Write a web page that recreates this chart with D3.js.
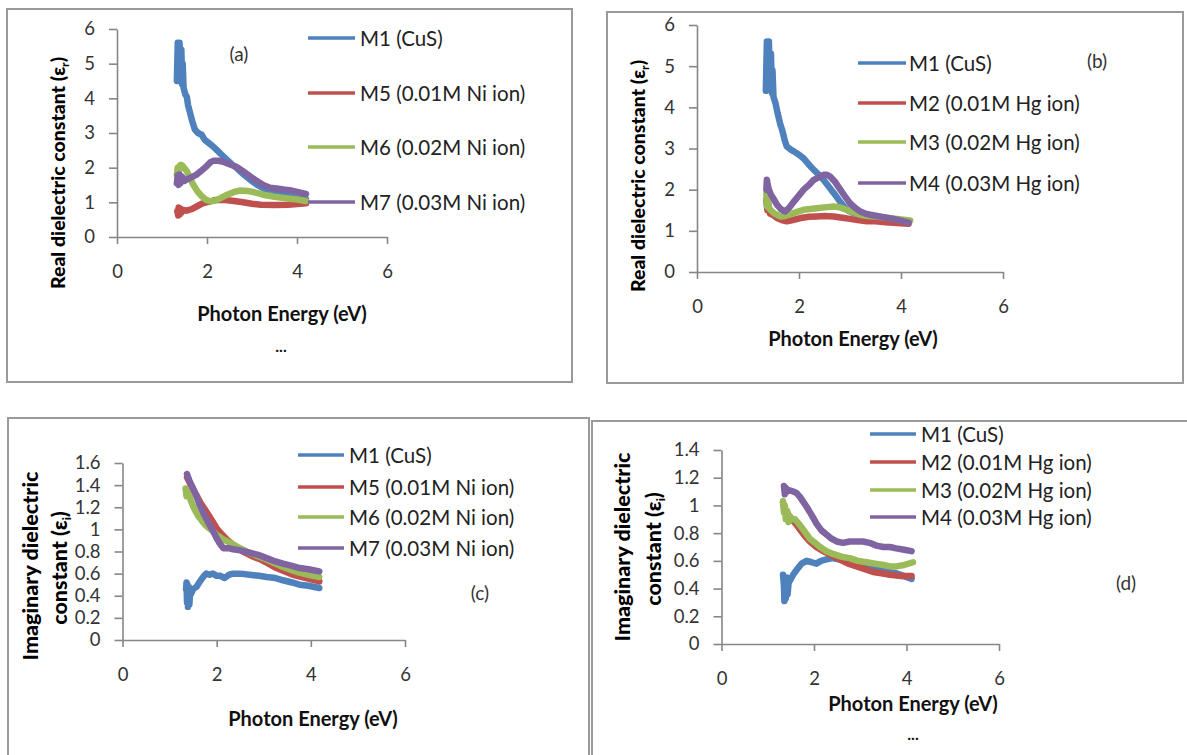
<!DOCTYPE html>
<html>
<head>
<meta charset="utf-8">
<script src="https://cdn.jsdelivr.net/npm/d3@7"></script>
<style>
  html, body { margin: 0; padding: 0; background: #fff; }
  svg { display: block; font-family: Lato, "Open Sans", sans-serif; }
</style>
</head>
<body>
<svg id="fig" width="1187" height="755"></svg>
<script>
// ---- tick values ----
const energyTicks = [0, 2, 4, 6];
const realTicks = [0, 1, 2, 3, 4, 5, 6];
const imagTicksNi = [0, 0.2, 0.4, 0.6, 0.8, 1, 1.2, 1.4, 1.6];
const imagTicksHg = [0, 0.2, 0.4, 0.6, 0.8, 1, 1.2, 1.4];

// ---- legend labels ----
const legendNi = ["M1 (CuS)", "M5 (0.01M Ni ion)", "M6 (0.02M Ni ion)", "M7 (0.03M Ni ion)"];
const legendHg = ["M1 (CuS)", "M2 (0.01M Hg ion)", "M3 (0.02M Hg ion)", "M4 (0.03M Hg ion)"];

// ---- (a) real part, Ni-doped films: [photon energy eV, epsilon_r] ----
const realNi_M1 = [[1.33,4.5],[1.35,5.6],[1.37,4.5],[1.39,5.6],[1.41,4.5],[1.43,5.4],[1.45,4.4],[1.46,5.0],[1.48,4.3],[1.52,4.1],[1.55,4.05],[1.58,3.8],[1.62,3.6],[1.67,3.35],[1.73,3.1],[1.80,3.0],[1.88,2.95],[1.95,2.8],[2.0,2.75],[2.1,2.65],[2.21,2.52],[2.32,2.38],[2.44,2.23],[2.55,2.1],[2.66,1.99],[2.8,1.82],[2.96,1.65],[3.1,1.52],[3.25,1.41],[3.4,1.33],[3.55,1.27],[3.7,1.22],[3.84,1.17],[4.0,1.12],[4.2,1.08]];
const realNi_M5 = [[1.34,0.75],[1.36,0.62],[1.37,0.85],[1.39,0.65],[1.41,0.82],[1.43,0.7],[1.47,0.78],[1.55,0.76],[1.65,0.8],[1.77,0.88],[1.9,0.97],[2.07,1.03],[2.2,1.07],[2.4,1.07],[2.6,1.04],[2.8,1.0],[3.0,0.96],[3.2,0.93],[3.5,0.92],[3.8,0.93],[4.0,0.95],[4.2,0.97]];
const realNi_M6 = [[1.33,1.8],[1.35,2.0],[1.37,1.85],[1.39,2.05],[1.42,2.08],[1.46,2.05],[1.5,1.98],[1.56,1.88],[1.62,1.7],[1.7,1.5],[1.78,1.33],[1.88,1.18],[1.98,1.07],[2.07,1.03],[2.18,1.05],[2.3,1.12],[2.45,1.22],[2.6,1.3],[2.75,1.34],[2.9,1.33],[3.05,1.29],[3.25,1.22],[3.5,1.16],[3.75,1.12],[4.0,1.08],[4.2,1.04]];
const realNi_M7 = [[1.33,1.55],[1.35,1.78],[1.37,1.5],[1.39,1.8],[1.41,1.55],[1.44,1.75],[1.5,1.62],[1.55,1.66],[1.65,1.72],[1.77,1.8],[1.88,1.92],[1.99,2.04],[2.07,2.15],[2.14,2.2],[2.25,2.2],[2.36,2.17],[2.5,2.1],[2.66,2.02],[2.8,1.9],[2.96,1.75],[3.1,1.62],[3.25,1.5],[3.4,1.42],[3.55,1.4],[3.7,1.37],[3.84,1.35],[4.0,1.3],[4.2,1.24]];

// ---- (b) real part, Hg-doped films ----
const realHg_M1 = [[1.35,4.4],[1.37,5.6],[1.39,4.45],[1.41,5.6],[1.43,4.5],[1.45,5.3],[1.47,4.35],[1.48,4.9],[1.5,4.25],[1.54,4.1],[1.58,3.86],[1.63,3.6],[1.67,3.45],[1.72,3.2],[1.76,3.05],[1.83,2.98],[1.9,2.93],[2.0,2.85],[2.09,2.76],[2.2,2.6],[2.29,2.48],[2.4,2.35],[2.48,2.24],[2.58,2.08],[2.68,1.92],[2.78,1.75],[2.88,1.59],[2.98,1.48],[3.07,1.43],[3.2,1.4],[3.35,1.36],[3.5,1.33],[3.7,1.3],[3.9,1.26],[4.15,1.22]];
const realHg_M2 = [[1.36,1.75],[1.38,1.5],[1.4,1.65],[1.43,1.42],[1.5,1.38],[1.57,1.31],[1.66,1.26],[1.76,1.23],[1.9,1.27],[2.03,1.31],[2.2,1.34],[2.35,1.35],[2.5,1.36],[2.68,1.35],[2.85,1.32],[3.0,1.29],[3.15,1.26],[3.33,1.23],[3.5,1.23],[3.7,1.21],[3.92,1.19],[4.15,1.17]];
const realHg_M3 = [[1.36,1.9],[1.37,1.6],[1.39,1.8],[1.41,1.55],[1.44,1.51],[1.52,1.42],[1.63,1.35],[1.73,1.36],[1.83,1.4],[1.96,1.46],[2.09,1.51],[2.22,1.53],[2.35,1.55],[2.5,1.57],[2.68,1.59],[2.8,1.57],[2.94,1.51],[3.07,1.45],[3.2,1.39],[3.35,1.36],[3.53,1.35],[3.72,1.32],[3.92,1.29],[4.18,1.25]];
const realHg_M4 = [[1.36,2.0],[1.37,2.24],[1.39,2.1],[1.41,2.0],[1.45,1.88],[1.5,1.78],[1.57,1.63],[1.65,1.52],[1.73,1.47],[1.8,1.55],[1.9,1.71],[2.0,1.86],[2.09,2.0],[2.2,2.12],[2.29,2.24],[2.4,2.31],[2.48,2.36],[2.55,2.36],[2.61,2.32],[2.7,2.2],[2.81,2.0],[2.9,1.84],[3.0,1.67],[3.1,1.56],[3.2,1.47],[3.3,1.42],[3.4,1.39],[3.53,1.36],[3.66,1.33],[3.8,1.3],[3.92,1.27],[4.05,1.23],[4.15,1.2]];

// ---- (c) imaginary part, Ni-doped films ----
const imagNi_M1 = [[1.35,0.46],[1.36,0.52],[1.37,0.34],[1.38,0.5],[1.39,0.3],[1.41,0.48],[1.42,0.32],[1.44,0.45],[1.46,0.42],[1.5,0.46],[1.57,0.48],[1.63,0.52],[1.68,0.55],[1.73,0.58],[1.78,0.6],[1.85,0.59],[1.92,0.6],[2.0,0.58],[2.08,0.58],[2.17,0.56],[2.26,0.59],[2.35,0.6],[2.5,0.6],[2.7,0.59],[2.9,0.58],[3.06,0.57],[3.25,0.56],[3.41,0.54],[3.6,0.52],[3.76,0.5],[3.95,0.49],[4.18,0.47]];
const imagNi_M5 = [[1.37,1.47],[1.45,1.4],[1.57,1.31],[1.67,1.23],[1.78,1.16],[1.9,1.08],[2.0,1.01],[2.1,0.96],[2.21,0.91],[2.38,0.85],[2.56,0.8],[2.74,0.76],[2.92,0.73],[3.1,0.69],[3.27,0.65],[3.45,0.62],[3.62,0.59],[3.9,0.56],[4.18,0.53]];
const imagNi_M6 = [[1.34,1.37],[1.36,1.3],[1.4,1.33],[1.46,1.25],[1.53,1.18],[1.61,1.12],[1.7,1.07],[1.78,1.03],[1.9,0.99],[2.0,0.95],[2.14,0.91],[2.28,0.88],[2.45,0.84],[2.63,0.8],[2.8,0.77],[2.99,0.74],[3.2,0.7],[3.41,0.66],[3.6,0.63],[3.76,0.61],[3.95,0.59],[4.18,0.57]];
const imagNi_M7 = [[1.37,1.5],[1.43,1.43],[1.5,1.37],[1.57,1.3],[1.64,1.22],[1.74,1.13],[1.85,1.04],[1.93,0.98],[2.0,0.92],[2.07,0.87],[2.14,0.83],[2.25,0.83],[2.35,0.82],[2.5,0.81],[2.7,0.79],[2.88,0.77],[3.06,0.74],[3.25,0.71],[3.41,0.69],[3.6,0.67],[3.76,0.65],[3.95,0.64],[4.18,0.62]];

// ---- (d) imaginary part, Hg-doped films ----
const imagHg_M1 = [[1.33,0.5],[1.35,0.42],[1.36,0.31],[1.38,0.46],[1.39,0.33],[1.41,0.48],[1.43,0.36],[1.45,0.44],[1.5,0.47],[1.55,0.5],[1.59,0.52],[1.66,0.55],[1.73,0.58],[1.84,0.6],[1.95,0.59],[2.05,0.58],[2.15,0.6],[2.27,0.61],[2.4,0.62],[2.56,0.61],[2.77,0.6],[2.92,0.59],[3.06,0.57],[3.25,0.55],[3.42,0.53],[3.6,0.52],[3.78,0.51],[3.95,0.49],[4.11,0.47]];
const imagHg_M2 = [[1.33,1.02],[1.36,0.98],[1.4,0.96],[1.45,0.93],[1.55,0.89],[1.62,0.86],[1.69,0.83],[1.8,0.78],[1.91,0.74],[2.05,0.7],[2.2,0.67],[2.38,0.64],[2.56,0.61],[2.74,0.58],[2.92,0.56],[3.1,0.54],[3.28,0.52],[3.46,0.51],[3.64,0.5],[3.88,0.49],[4.11,0.49]];
const imagHg_M3 = [[1.33,1.03],[1.35,0.95],[1.37,1.0],[1.39,0.9],[1.42,0.96],[1.45,0.88],[1.48,0.92],[1.53,0.9],[1.59,0.9],[1.69,0.86],[1.8,0.81],[1.91,0.76],[2.02,0.73],[2.13,0.7],[2.27,0.67],[2.41,0.65],[2.59,0.63],[2.77,0.62],[2.95,0.6],[3.14,0.59],[3.32,0.58],[3.5,0.57],[3.65,0.56],[3.78,0.56],[3.95,0.57],[4.14,0.59]];
const imagHg_M4 = [[1.35,1.14],[1.37,1.08],[1.39,1.13],[1.42,1.1],[1.47,1.11],[1.55,1.1],[1.62,1.09],[1.7,1.06],[1.78,1.02],[1.84,0.99],[1.95,0.93],[2.05,0.87],[2.16,0.82],[2.27,0.79],[2.38,0.76],[2.49,0.74],[2.63,0.73],[2.77,0.74],[2.92,0.74],[3.06,0.74],[3.2,0.73],[3.35,0.71],[3.5,0.7],[3.64,0.7],[3.78,0.69],[3.95,0.68],[4.11,0.67]];

// Office-style series colours, in legend order
const seriesColors = ["#4F81BD", "#C0504D", "#9BBB59", "#8064A2"];

const svg = d3.select("#fig");
svg.append("rect").attr("width", 1187).attr("height", 755).attr("fill", "#fff");

const FRAME = "#9a9a9a";
// panel frames
svg.append("rect").attr("x", 7).attr("y", 9).attr("width", 565).attr("height", 373)
  .attr("fill", "none").attr("stroke", FRAME).attr("stroke-width", 2);
svg.append("rect").attr("x", 607).attr("y", 12).attr("width", 576).attr("height", 371)
  .attr("fill", "none").attr("stroke", FRAME).attr("stroke-width", 2);
svg.append("path").attr("d", "M8,760 L8,418 L589,418 L589,760")
  .attr("fill", "none").attr("stroke", FRAME).attr("stroke-width", 2);
svg.append("path").attr("d", "M592,760 L592,421 L1190,421")
  .attr("fill", "none").attr("stroke", FRAME).attr("stroke-width", 2);

const panels = [
  { tag: "(a)", tagPos: [239, 53],
    xr: [117, 387], yr: [237, 29], yDomain: [0, 6], yTicks: realTicks,
    series: [realNi_M1, realNi_M5, realNi_M6, realNi_M7], labels: legendNi,
    legend: { x0: 308, x1: 355, tx: 360, rows: [38, 93, 147, 202] },
    yTitle: [["Real dielectric constant (ε", "r", ")"]], yTitlePos: [[57, 173]], yTitleSize: 19.5,
    xTitlePos: [282, 313], dots: [281, 345] },
  { tag: "(b)", tagPos: [1097, 60],
    xr: [697, 1003], yr: [272, 25], yDomain: [0, 6], yTicks: realTicks,
    series: [realHg_M1, realHg_M2, realHg_M3, realHg_M4], labels: legendHg,
    legend: { x0: 858, x1: 906, tx: 909, rows: [63, 103, 142, 183] },
    yTitle: [["Real dielectric constant (ε", "r", ")"]], yTitlePos: [[637, 176]], yTitleSize: 19.5,
    xTitlePos: [853, 338], dots: null },
  { tag: "(c)", tagPos: [480, 592],
    xr: [122.5, 405], yr: [640, 463], yDomain: [0, 1.6], yTicks: imagTicksNi,
    series: [imagNi_M1, imagNi_M5, imagNi_M6, imagNi_M7], labels: legendNi,
    legend: { x0: 298, x1: 344, tx: 349, rows: [455, 487, 517, 548] },
    yTitle: [["Imaginary dielectric", "", ""], ["constant (ε", "i", ")"]],
    yTitlePos: [[30, 566], [59, 568]], yTitleSize: 21.5,
    xTitlePos: [313, 718], dots: null },
  { tag: "(d)", tagPos: [1126, 582],
    xr: [721.5, 999], yr: [644, 450], yDomain: [0, 1.4], yTicks: imagTicksHg,
    series: [imagHg_M1, imagHg_M2, imagHg_M3, imagHg_M4], labels: legendHg,
    legend: { x0: 870, x1: 916, tx: 921, rows: [434, 462, 490, 517] },
    yTitle: [["Imaginary dielectric", "", ""], ["constant (ε", "i", ")"]],
    yTitlePos: [[622, 547], [653, 549]], yTitleSize: 21.5,
    xTitlePos: [913, 703], dots: [913, 733] }
];

const AXIS = "#868686";
const TICKTXT = "#333";
const fmt = d3.format("~g");

panels.forEach(p => {
  const g = svg.append("g");
  const x = d3.scaleLinear().domain([0, 6]).range(p.xr);
  const y = d3.scaleLinear().domain(p.yDomain).range(p.yr);

  // axes
  const gx = g.append("g").attr("transform", `translate(0,${y(0)})`)
    .call(d3.axisBottom(x).tickValues(energyTicks).tickFormat(fmt)
      .tickSize(7).tickSizeOuter(0).tickPadding(21));
  const gy = g.append("g").attr("transform", `translate(${x(0)},0)`)
    .call(d3.axisLeft(y).tickValues(p.yTicks).tickFormat(fmt)
      .tickSize(8).tickSizeOuter(0).tickPadding(14));
  [gx, gy].forEach(a => {
    a.select(".domain").attr("stroke", AXIS).attr("stroke-width", 1.6);
    a.selectAll(".tick line").attr("stroke", AXIS).attr("stroke-width", 1.6);
    a.selectAll(".tick text").attr("fill", TICKTXT)
      .style("font-family", "Lato, sans-serif").style("font-size", "18.5px");
  });

  // data lines (first series at the bottom, last on top)
  const line = d3.line().x(d => x(d[0])).y(d => y(d[1]));
  p.series.forEach((s, i) => {
    g.append("path").datum(s).attr("d", line)
      .attr("fill", "none").attr("stroke", seriesColors[i])
      .attr("stroke-width", 6.5).attr("stroke-linejoin", "round").attr("stroke-linecap", "round");
  });

  // legend
  p.labels.forEach((lab, i) => {
    const ry = p.legend.rows[i];
    g.append("line").attr("x1", p.legend.x0).attr("x2", p.legend.x1)
      .attr("y1", ry).attr("y2", ry)
      .attr("stroke", seriesColors[i]).attr("stroke-width", 3.5);
    g.append("text").attr("x", p.legend.tx).attr("y", ry)
      .attr("dominant-baseline", "central")
      .style("font-size", "20.5px").attr("fill", "#222").text(lab);
  });

  // panel tag
  g.append("text").attr("x", p.tagPos[0]).attr("y", p.tagPos[1])
    .attr("text-anchor", "middle").attr("dominant-baseline", "central")
    .style("font-size", "19px").attr("fill", "#333").text(p.tag);

  // y-axis title (rotated, bold)
  p.yTitle.forEach((parts, k) => {
    const [cx, cy] = p.yTitlePos[k];
    const t = g.append("text")
      .attr("transform", `translate(${cx},${cy}) rotate(-90)`)
      .attr("text-anchor", "middle").attr("dominant-baseline", "central")
      .style("font-size", p.yTitleSize + "px").style("font-weight", "900").attr("fill", "#000");
    t.append("tspan").text(parts[0]);
    if (parts[1]) {
      t.append("tspan").attr("baseline-shift", "sub").style("font-size", "12px").text(parts[1]);
      t.append("tspan").text(parts[2]);
    }
  });

  // x-axis title
  g.append("text").attr("x", p.xTitlePos[0]).attr("y", p.xTitlePos[1])
    .attr("text-anchor", "middle").attr("dominant-baseline", "central")
    .style("font-size", "20px").style("font-weight", "bold").attr("fill", "#111")
    .text("Photon Energy (eV)");

  if (p.dots) {
    g.append("text").attr("x", p.dots[0]).attr("y", p.dots[1])
      .attr("text-anchor", "middle").attr("dominant-baseline", "central")
      .style("font-size", "16px").style("font-weight", "bold").attr("fill", "#111").text("...");
  }
});
</script>
</body>
</html>
